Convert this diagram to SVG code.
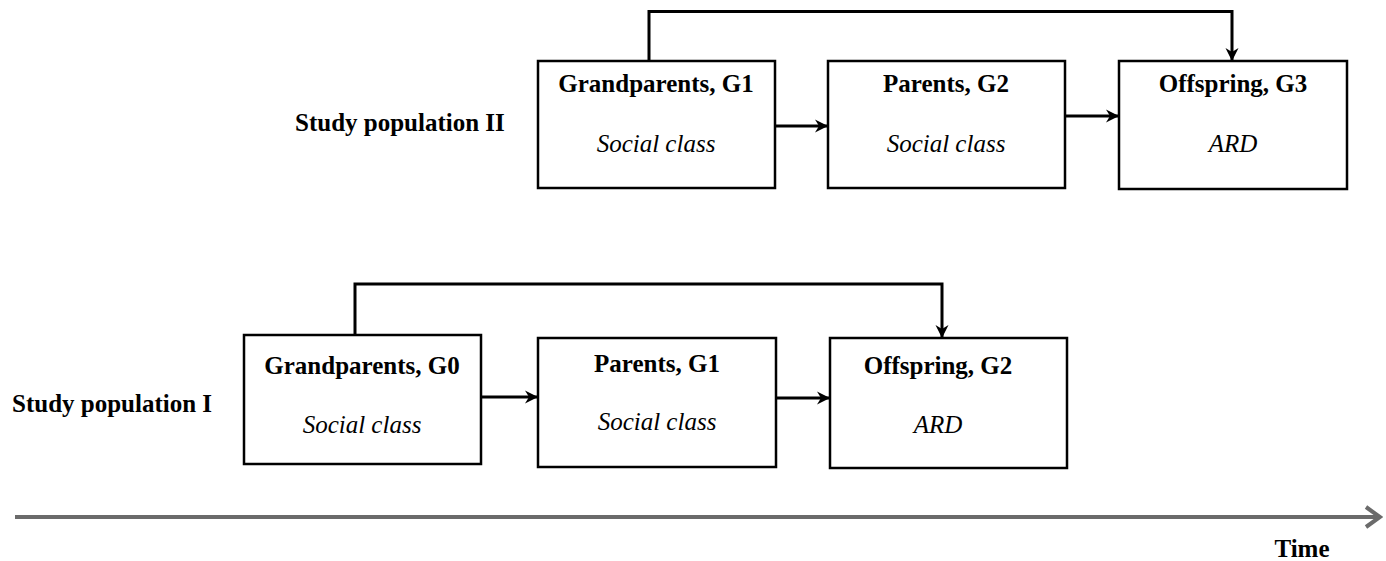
<svg xmlns="http://www.w3.org/2000/svg" width="1386" height="561" viewBox="0 0 1386 561">
<style>
.box{fill:#fff;stroke:#000;stroke-width:2.5}
.t{font-family:"Liberation Serif","Times New Roman",serif;font-weight:bold;font-size:25px;text-anchor:middle;fill:#000}
.i{font-family:"Liberation Serif","Times New Roman",serif;font-style:italic;font-size:25px;text-anchor:middle;fill:#000}
.lbl{font-family:"Liberation Serif","Times New Roman",serif;font-weight:bold;font-size:25px;fill:#000}
.c{fill:none;stroke:#000;stroke-width:3}
</style>
<defs>
<marker id="ah" markerWidth="14" markerHeight="14" refX="12" refY="7" orient="auto" markerUnits="userSpaceOnUse" viewBox="0 0 14 14">
<path d="M0,0.5 L13,7 L0,13.5 L4,7 Z" fill="#000"/>
</marker>
<marker id="tah" markerWidth="20" markerHeight="24" refX="17" refY="12" orient="auto" markerUnits="userSpaceOnUse" viewBox="0 0 20 24">
<path d="M3,2 L17,12 L3,22" fill="none" stroke="#6b6b6b" stroke-width="4"/>
</marker>
</defs>
<text class="lbl" x="295" y="131">Study population II</text>
<text class="lbl" x="12" y="412">Study population I</text>
<g id="g1-top"><rect class="box" x="538" y="61" width="237" height="127"/><text class="t" x="656" y="92">Grandparents, G1</text><text class="i" x="656" y="152">Social class</text></g>
<g id="g2-top"><rect class="box" x="828" y="61" width="237" height="127"/><text class="t" x="946" y="92">Parents, G2</text><text class="i" x="946" y="152">Social class</text></g>
<g id="g3-top"><rect class="box" x="1119" y="61" width="228" height="128"/><text class="t" x="1233" y="92">Offspring, G3</text><text class="i" x="1233" y="152">ARD</text></g>
<g id="g0-bot"><rect class="box" x="244" y="335" width="237" height="129"/><text class="t" x="362" y="374">Grandparents, G0</text><text class="i" x="362" y="433">Social class</text></g>
<g id="g1-bot"><rect class="box" x="538" y="338" width="238" height="129"/><text class="t" x="657" y="372">Parents, G1</text><text class="i" x="657" y="430">Social class</text></g>
<g id="g2-bot"><rect class="box" x="830" y="338" width="237" height="130"/><text class="t" x="938" y="374">Offspring, G2</text><text class="i" x="938" y="433">ARD</text></g>
<g id="connectors">
<path class="c" d="M649,61 V11.5 H1232 V60" marker-end="url(#ah)"/>
<path class="c" d="M775,126 H827" marker-end="url(#ah)"/>
<path class="c" d="M1065,116 H1118" marker-end="url(#ah)"/>
<path class="c" d="M355,335 V284 H942 V337" marker-end="url(#ah)"/>
<path class="c" d="M481,397 H537" marker-end="url(#ah)"/>
<path class="c" d="M776,398 H829" marker-end="url(#ah)"/>
<path d="M15,517 H1380" fill="none" stroke="#6b6b6b" stroke-width="4" marker-end="url(#tah)"/>
</g>
<text class="lbl" x="1302" y="557" text-anchor="middle">Time</text>
</svg>
